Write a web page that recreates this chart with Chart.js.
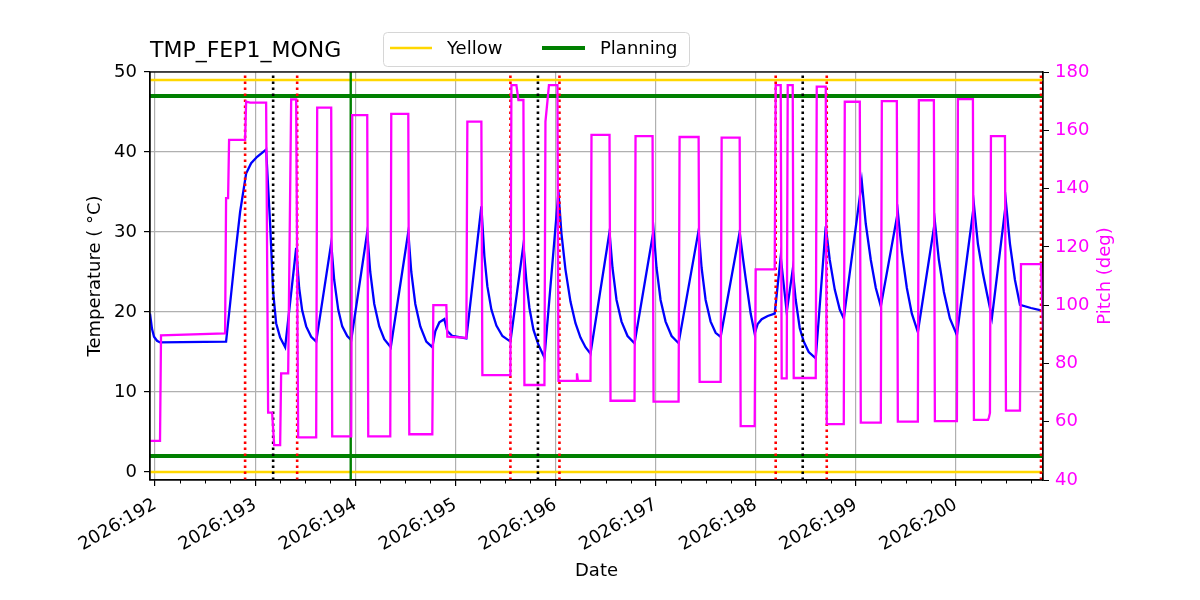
<!DOCTYPE html>
<html>
<head>
<meta charset="utf-8">
<script src="https://cdn.jsdelivr.net/npm/chart.js@4.4.0/dist/chart.umd.min.js"></script>
<style>
  body { margin: 0; background: #fff; }
  canvas { display: block; }
</style>
</head>
<body>
<canvas id="chart" width="1200" height="600"></canvas>
<script>
// x values are day-of-year in 2026
const xRange = [191.95, 200.87];
const dayTicks = [192, 193, 194, 195, 196, 197, 198, 199, 200];
const tempTicks = [0, 10, 20, 30, 40, 50];
const pitchTicks = [40, 60, 80, 100, 120, 140, 160, 180];

// TMP_FEP1_MONG temperature (deg C)
const tempDays = [
  191.95, 191.97, 191.99, 192.02, 192.05, 192.71, 192.75, 192.80, 192.85, 192.91,
  192.96, 193.02, 193.11, 193.15, 193.18, 193.21, 193.25, 193.30, 193.41, 193.44,
  193.47, 193.51, 193.56, 193.61, 193.76, 193.79, 193.83, 193.87, 193.92, 193.96,
  194.12, 194.15, 194.19, 194.24, 194.29, 194.355, 194.53, 194.56, 194.60, 194.65,
  194.71, 194.77, 194.80, 194.84, 194.89, 194.92, 194.97, 195.11, 195.26, 195.29,
  195.32, 195.36, 195.41, 195.47, 195.55, 195.68, 195.71, 195.74, 195.78, 195.83,
  195.89, 196.03, 196.06, 196.10, 196.15, 196.20, 196.25, 196.30, 196.35, 196.54,
  196.57, 196.61, 196.66, 196.72, 196.79, 196.98, 197.01, 197.05, 197.10, 197.16,
  197.23, 197.43, 197.46, 197.50, 197.55, 197.60, 197.65, 197.84, 197.87, 197.90,
  197.95, 197.99, 198.02, 198.06, 198.12, 198.19, 198.25, 198.31, 198.37, 198.40,
  198.44, 198.48, 198.53, 198.60, 198.70, 198.74, 198.79, 198.84, 198.88, 199.06,
  199.10, 199.15, 199.20, 199.25, 199.42, 199.46, 199.51, 199.56, 199.62, 199.79,
  199.83, 199.88, 199.94, 200.01, 200.18, 200.22, 200.27, 200.31, 200.36, 200.50,
  200.54, 200.59, 200.64, 200.75, 200.85
];
const tempVals = [
  19.8, 17.9, 16.9, 16.4, 16.2, 16.3, 21.0, 27.0, 32.5, 37.3,
  38.6, 39.4, 40.3, 31.0, 22.5, 18.6, 16.8, 15.6, 28.0, 23.0,
  20.2, 18.2, 16.9, 16.3, 28.6, 24.0, 20.3, 18.2, 17.0, 16.5,
  30.0, 25.0, 21.0, 18.2, 16.6, 15.6, 30.0, 25.0, 21.0, 18.2,
  16.3, 15.6, 17.6, 18.7, 19.1, 17.6, 17.0, 16.7, 33.2, 27.0,
  23.2, 20.3, 18.3, 17.0, 16.3, 28.4, 23.8, 20.5, 17.8, 15.9,
  14.3, 35.0, 29.8, 25.3, 21.3, 18.6, 16.8, 15.6, 14.8, 30.0,
  25.5, 21.5, 18.8, 17.0, 16.1, 30.2, 25.5, 21.5, 18.8, 17.0,
  16.1, 30.2, 25.5, 21.5, 18.8, 17.4, 16.9, 30.0, 27.0, 24.2,
  19.8, 17.3, 18.5, 19.1, 19.5, 19.8, 26.9, 20.0, 25.3, 21.5,
  18.0, 16.3, 15.0, 14.2, 30.7, 26.5, 22.8, 20.3, 19.2, 36.3,
  31.0, 26.5, 23.0, 20.7, 32.5, 27.5, 23.0, 19.8, 17.5, 31.3,
  26.5, 22.5, 19.2, 17.1, 33.4, 28.5, 24.8, 22.3, 19.3, 33.7,
  28.5, 24.0, 20.9, 20.5, 20.2
];

// pitch (deg), right axis
const pitchDays = [
  191.95, 192.05, 192.06, 192.70, 192.71, 192.73, 192.74, 192.90, 192.91, 192.95,
  193.11, 193.13, 193.17, 193.19, 193.25, 193.26, 193.33, 193.36, 193.41, 193.43,
  193.61, 193.62, 193.76, 193.77, 193.96, 193.97, 194.12, 194.13, 194.35, 194.36,
  194.53, 194.54, 194.77, 194.78, 194.91, 194.92, 195.11, 195.12, 195.26, 195.27,
  195.55, 195.56, 195.61, 195.63, 195.68, 195.69, 195.89, 195.90, 195.92, 195.935,
  196.02, 196.03, 196.21, 196.215, 196.225, 196.35, 196.36, 196.54, 196.55, 196.79,
  196.80, 196.97, 196.98, 197.23, 197.24, 197.43, 197.44, 197.65, 197.66, 197.84,
  197.85, 197.99, 198.00, 198.19, 198.20, 198.25, 198.26, 198.31, 198.32, 198.37,
  198.38, 198.60, 198.61, 198.70, 198.71, 198.88, 198.89, 199.04, 199.05, 199.25,
  199.26, 199.41, 199.42, 199.62, 199.63, 199.78, 199.79, 200.01, 200.02, 200.17,
  200.18, 200.32, 200.33, 200.34, 200.35, 200.49, 200.50, 200.64, 200.65, 200.85,
  200.87
];
const pitchVals = [
  53.4, 53.4, 89.6, 90.3, 136.7, 136.7, 156.7, 156.7, 169.8, 169.5,
  169.5, 63.1, 63.1, 52.0, 52.0, 76.6, 76.6, 170.6, 170.6, 54.6,
  54.6, 167.8, 167.8, 55.0, 55.0, 165.2, 165.2, 55.0, 55.0, 165.6,
  165.6, 55.7, 55.7, 100.0, 100.0, 89.2, 88.8, 163.0, 163.0, 76.0,
  76.0, 175.5, 175.5, 170.4, 170.4, 72.6, 72.6, 163.0, 170.0, 175.5,
  175.5, 74.0, 74.0, 76.6, 74.0, 74.0, 158.4, 158.4, 67.2, 67.2,
  158.0, 158.0, 66.9, 66.9, 157.7, 157.7, 73.7, 73.7, 157.5, 157.5,
  58.5, 58.5, 112.3, 112.3, 175.5, 175.5, 74.9, 74.9, 175.5, 175.5,
  75.0, 75.0, 175.0, 175.0, 59.2, 59.2, 169.8, 169.8, 59.7, 59.7,
  170.0, 170.0, 60.0, 60.0, 170.3, 170.3, 60.2, 60.2, 170.7, 170.7,
  60.6, 60.6, 61.5, 63.0, 158.0, 158.0, 63.8, 63.8, 114.1, 114.1,
  91.5
];

const yellowLimits = [0, 49];
const planningLimits = [2, 47];
const redMarks = [192.90, 193.42, 195.55, 196.04, 198.20, 198.71, 200.85];
const blackMarks = [193.18, 195.825, 198.47];
const greenMarks = [193.955];

const FONT = '"DejaVu Sans", sans-serif';

function pts(xs, ys) {
  return xs.map((x, i) => ({ x: x, y: ys[i] }));
}

function vline(day, color, dash, width) {
  return {
    data: [{ x: day, y: -1 }, { x: day, y: 50 }],
    yAxisID: 'y', borderColor: color, borderWidth: width, borderDash: dash,
    pointRadius: 0, fill: false
  };
}

function hline(level, color, width) {
  return {
    data: [{ x: xRange[0], y: level }, { x: xRange[1], y: level }],
    yAxisID: 'y', borderColor: color, borderWidth: width,
    pointRadius: 0, fill: false
  };
}

// first dataset is drawn on top
const datasets = [];
datasets.push({
  label: 'Pitch', data: pts(pitchDays, pitchVals), yAxisID: 'y2',
  borderColor: '#ff00ff', borderWidth: 2.3, pointRadius: 0, fill: false
});
redMarks.forEach(d => datasets.push(vline(d, '#ff0000', [2.5, 3.5], 2.6)));
blackMarks.forEach(d => datasets.push(vline(d, '#000000', [2.5, 3.5], 2.6)));
greenMarks.forEach(d => datasets.push(vline(d, '#008000', [], 2.4)));
planningLimits.forEach(v => datasets.push(hline(v, '#008000', 3.8)));
yellowLimits.forEach(v => datasets.push(hline(v, '#ffd700', 2.4)));
datasets.push({
  label: 'Temperature', data: pts(tempDays, tempVals), yAxisID: 'y',
  borderColor: '#0000ff', borderWidth: 2.3, pointRadius: 0, fill: false
});

// title, legend, right label, top spine, minor ticks
const decor = {
  id: 'decor',
  afterDraw(chart) {
    const ctx = chart.ctx;
    const a = chart.chartArea;
    const xs = chart.scales.x;
    ctx.save();

    ctx.strokeStyle = '#000';
    ctx.lineWidth = 1.3;
    ctx.strokeRect(a.left, a.top, a.right - a.left, a.bottom - a.top);

    // minor ticks every 6 hours
    ctx.lineWidth = 1;
    for (let d = dayTicks[0]; d <= xRange[1]; d += 0.25) {
      if (Number.isInteger(d)) continue;
      const px = Math.round(xs.getPixelForValue(d)) + 0.5;
      ctx.beginPath();
      ctx.moveTo(px, a.bottom);
      ctx.lineTo(px, a.bottom + 3.5);
      ctx.stroke();
    }

    ctx.fillStyle = '#000';
    ctx.font = '22px ' + FONT;
    ctx.textAlign = 'left';
    ctx.textBaseline = 'alphabetic';
    ctx.fillText('TMP_FEP1_MONG', 150, 57);

    // legend
    ctx.beginPath();
    ctx.roundRect(383.5, 32.5, 306, 34, 4);
    ctx.fillStyle = 'rgba(255,255,255,0.8)';
    ctx.fill();
    ctx.strokeStyle = '#d6d6d6';
    ctx.lineWidth = 1;
    ctx.stroke();

    ctx.lineWidth = 2.4;
    ctx.strokeStyle = '#ffd700';
    ctx.beginPath(); ctx.moveTo(390, 48); ctx.lineTo(432, 48); ctx.stroke();
    ctx.lineWidth = 3.8;
    ctx.strokeStyle = '#008000';
    ctx.beginPath(); ctx.moveTo(542, 48); ctx.lineTo(585, 48); ctx.stroke();

    ctx.fillStyle = '#000';
    ctx.font = '18px ' + FONT;
    ctx.textBaseline = 'middle';
    ctx.fillText('Yellow', 447, 49);
    ctx.fillText('Planning', 600, 49);

    // right axis label, reads bottom to top
    ctx.translate(1105, (a.top + a.bottom) / 2);
    ctx.rotate(-Math.PI / 2);
    ctx.textAlign = 'center';
    ctx.fillStyle = '#ff00ff';
    ctx.fillText('Pitch (deg)', 0, 0);
    ctx.restore();
  }
};

new Chart(document.getElementById('chart').getContext('2d'), {
  type: 'line',
  data: { datasets: datasets },
  plugins: [decor],
  options: {
    responsive: false,
    animation: false,
    devicePixelRatio: 1,
    layout: { padding: { top: 72, left: 0, right: 0, bottom: 0 } },
    plugins: { legend: { display: false }, tooltip: { enabled: false } },
    elements: { line: { tension: 0 }, point: { radius: 0 } },
    scales: {
      x: {
        type: 'linear',
        min: xRange[0],
        max: xRange[1],
        afterBuildTicks: s => { s.ticks = dayTicks.map(v => ({ value: v })); },
        afterFit: s => { s.height = 120; },
        ticks: {
          callback: v => '2026:' + v,
          autoSkip: false, minRotation: 30, maxRotation: 30,
          color: '#000', font: { family: FONT, size: 18 }, padding: 8
        },
        grid: { color: '#b0b0b0', lineWidth: 1.2, tickColor: '#000', tickLength: 6 },
        border: { color: '#000', width: 1.3 },
        title: { display: true, text: 'Date', color: '#000', font: { family: FONT, size: 18 }, padding: 18 }
      },
      y: {
        position: 'left',
        min: -1,
        max: 50,
        afterBuildTicks: s => { s.ticks = tempTicks.map(v => ({ value: v })); },
        afterFit: s => { s.width = 150; },
        ticks: { color: '#000', font: { family: FONT, size: 18 }, padding: 7 },
        grid: { color: '#b0b0b0', lineWidth: 1.2, tickColor: '#000', tickLength: 6 },
        border: { color: '#000', width: 1.3 },
        title: { display: true, text: 'Temperature ( °C)', color: '#000', font: { family: FONT, size: 18 }, padding: 85 }
      },
      y2: {
        position: 'right',
        min: 40,
        max: 180,
        afterBuildTicks: s => { s.ticks = pitchTicks.map(v => ({ value: v })); },
        afterFit: s => { s.width = 157; },
        ticks: { color: '#ff00ff', font: { family: FONT, size: 18 }, padding: 6 },
        grid: { drawOnChartArea: false, tickColor: '#000', tickLength: 6 },
        border: { color: '#000', width: 1.3 }
      }
    }
  }
});
</script>
</body>
</html>
